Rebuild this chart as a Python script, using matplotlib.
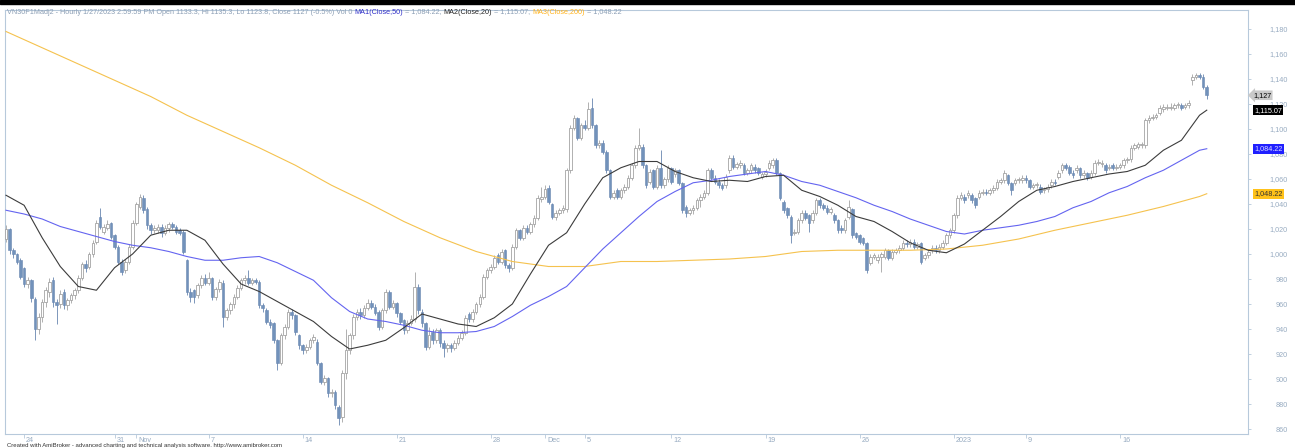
import matplotlib
matplotlib.use("Agg")
import numpy as np
import matplotlib.pyplot as plt
from matplotlib.transforms import ScaledTranslation, blended_transform_factory

plt.rcParams['font.family'] = ['Liberation Sans', 'DejaVu Sans']

# ===== hourly bars VN30F1M =====
opens = [
    1012, 1020, 1003, 1000, 995, 989, 976, 979, 964, 940,
    950, 962, 970, 979, 962, 960, 970, 959, 963, 967,
    971, 981, 992, 990, 1000, 1010, 1030, 1018, 1021, 1025,
    1015, 1006, 994, 987, 994, 1006, 1025, 1038, 1045, 1036,
    1023, 1019, 1019, 1022, 1017, 1021, 1024, 1022, 1019, 1018,
    995, 970, 971, 967, 975, 981, 977, 981, 966, 972,
    977, 950, 955, 960, 966, 973, 979, 981, 977, 979,
    978, 959, 955, 946, 945, 931, 913, 935, 942, 954,
    951, 935, 927, 923, 926, 931, 930, 913, 898, 901,
    889, 890, 878, 870, 905, 923, 935, 950, 954, 951,
    957, 961, 958, 954, 942, 955, 970, 958, 961, 953,
    947, 939, 945, 948, 974, 954, 945, 926, 938, 931,
    939, 929, 925, 927, 925, 929, 933, 937, 952, 948,
    954, 960, 966, 982, 987, 990, 999, 994, 1003, 991,
    989, 1006, 1019, 1013, 1021, 1018, 1024, 1029, 1044, 1046,
    1053, 1040, 1030, 1033, 1035, 1036, 1067, 1101, 1109, 1093,
    1103, 1101, 1117, 1103, 1087, 1089, 1082, 1067, 1046, 1051,
    1046, 1051, 1054, 1061, 1071, 1085, 1086, 1071, 1058, 1067,
    1054, 1069, 1055, 1060, 1069, 1064, 1067, 1057, 1038, 1033,
    1035, 1037, 1043, 1046, 1049, 1067, 1061, 1058, 1055, 1055,
    1067, 1077, 1070, 1071, 1071, 1065, 1067, 1070, 1069, 1062,
    1064, 1069, 1071, 1075, 1065, 1042, 1037, 1030, 1017, 1018,
    1027, 1033, 1031, 1027, 1033, 1043, 1039, 1037, 1034, 1031,
    1027, 1021, 1019, 1030, 1036, 1017, 1015, 1013, 1009, 993,
    998, 995, 998, 998, 1003, 997, 1002, 1003, 1005, 1009,
    1008, 1010, 1006, 1009, 997, 999, 1003, 1005, 1003, 1006,
    1009, 1015, 1019, 1031, 1045, 1046, 1047, 1047, 1045, 1046,
    1049, 1050, 1049, 1051, 1053, 1058, 1059, 1063, 1057, 1057,
    1059, 1059, 1061, 1059, 1054, 1055, 1054, 1051, 1052, 1055,
    1058, 1062, 1067, 1071, 1070, 1065, 1067, 1069, 1063, 1065,
    1062, 1065, 1073, 1072, 1071, 1069, 1071, 1069, 1070, 1071,
    1075, 1076, 1085, 1086, 1087, 1087, 1107, 1109, 1110, 1113,
    1116, 1117, 1117, 1117, 1119, 1119, 1118, 1119, 1139, 1142,
    1143, 1142, 1133.3,
]
highs = [
    1023, 1021, 1005, 1001, 997, 990, 982, 980, 966, 953,
    964, 974, 981, 982, 964, 971, 972, 965, 969, 973,
    983, 994, 995, 1002, 1011, 1027, 1037, 1024, 1027, 1026,
    1016, 1007, 996, 996, 1008, 1027, 1042, 1048, 1047, 1038,
    1025, 1023, 1024, 1024, 1023, 1026, 1026, 1023, 1021, 1019,
    996, 973, 972, 977, 983, 984, 986, 982, 974, 980,
    979, 957, 962, 968, 975, 981, 983, 987, 981, 981,
    979, 961, 957, 948, 946, 932, 937, 944, 956, 956,
    952, 936, 928, 928, 933, 936, 932, 914, 903, 902,
    892, 891, 879, 907, 940, 937, 952, 956, 957, 959,
    964, 963, 960, 955, 957, 972, 971, 963, 962, 954,
    948, 947, 951, 986, 976, 956, 946, 942, 940, 941,
    941, 931, 929, 929, 931, 935, 939, 951, 954, 956,
    962, 968, 984, 989, 992, 999, 1001, 1004, 1004, 993,
    1008, 1021, 1020, 1023, 1023, 1026, 1031, 1047, 1054, 1055,
    1055, 1041, 1035, 1037, 1039, 1069, 1103, 1111, 1110, 1105,
    1107, 1122, 1125, 1104, 1091, 1091, 1083, 1068, 1051, 1053,
    1053, 1056, 1063, 1073, 1087, 1101, 1088, 1072, 1068, 1068,
    1071, 1083, 1062, 1071, 1070, 1069, 1068, 1058, 1039, 1037,
    1039, 1045, 1048, 1051, 1069, 1069, 1063, 1060, 1057, 1064,
    1079, 1079, 1074, 1075, 1073, 1069, 1073, 1072, 1070, 1066,
    1068, 1075, 1077, 1077, 1066, 1043, 1038, 1031, 1020, 1029,
    1035, 1035, 1032, 1035, 1045, 1045, 1041, 1039, 1038, 1033,
    1028, 1023, 1029, 1043, 1037, 1018, 1016, 1014, 1010, 1000,
    1001, 1000, 1002, 1005, 1004, 1004, 1005, 1007, 1011, 1011,
    1012, 1012, 1010, 1010, 1001, 1004, 1007, 1007, 1008, 1011,
    1017, 1021, 1033, 1047, 1050, 1048, 1051, 1049, 1046, 1051,
    1052, 1052, 1053, 1055, 1060, 1061, 1067, 1064, 1058, 1061,
    1062, 1063, 1063, 1060, 1057, 1058, 1056, 1054, 1056, 1060,
    1060, 1067, 1073, 1073, 1071, 1067, 1071, 1070, 1067, 1066,
    1067, 1075, 1076, 1075, 1073, 1072, 1073, 1072, 1073, 1077,
    1078, 1087, 1089, 1090, 1090, 1109, 1111, 1112, 1113, 1119,
    1120, 1120, 1121, 1121, 1122, 1121, 1121, 1123, 1144, 1145,
    1145, 1144, 1135.3,
]
lows = [
    1010, 1000, 997, 992, 980, 974, 973, 962, 931, 936,
    946, 958, 966, 958, 944, 957, 956, 955, 961, 964,
    969, 979, 986, 988, 998, 1008, 1020, 1016, 1019, 1012,
    1004, 992, 983, 985, 992, 1004, 1023, 1036, 1033, 1020,
    1016, 1017, 1017, 1014, 1015, 1018, 1020, 1016, 1015, 1000,
    967, 962, 961, 965, 973, 975, 975, 963, 963, 970,
    942, 947, 952, 957, 964, 971, 976, 975, 975, 976,
    957, 954, 944, 941, 929, 907, 911, 932, 940, 948,
    935, 924, 920, 921, 924, 929, 911, 896, 895, 886,
    886, 876, 863, 866, 900, 920, 932, 947, 948, 949,
    955, 956, 951, 939, 940, 953, 956, 956, 950, 944,
    936, 937, 943, 946, 952, 942, 923, 924, 928, 929,
    926, 918, 922, 922, 923, 927, 931, 935, 946, 946,
    952, 958, 964, 980, 985, 988, 992, 992, 989, 986,
    987, 1004, 1011, 1011, 1016, 1016, 1022, 1027, 1042, 1044,
    1040, 1028, 1027, 1031, 1033, 1034, 1065, 1099, 1091, 1091,
    1099, 1099, 1101, 1085, 1085, 1080, 1065, 1044, 1044, 1044,
    1044, 1049, 1052, 1059, 1069, 1083, 1069, 1053, 1056, 1052,
    1052, 1053, 1053, 1058, 1056, 1062, 1055, 1033, 1030, 1031,
    1032, 1035, 1038, 1044, 1047, 1059, 1056, 1053, 1051, 1053,
    1065, 1068, 1068, 1069, 1063, 1063, 1065, 1065, 1063, 1060,
    1062, 1067, 1069, 1063, 1043, 1033, 1029, 1009, 1015, 1016,
    1025, 1027, 1018, 1025, 1031, 1037, 1035, 1032, 1032, 1025,
    1017, 1017, 1017, 1028, 1013, 1012, 1008, 1007, 985, 991,
    996, 993, 986, 996, 995, 995, 1000, 1001, 1003, 1006,
    1006, 1004, 1004, 992, 995, 997, 1001, 1001, 1001, 1004,
    1007, 1013, 1017, 1029, 1043, 1041, 1045, 1041, 1037, 1044,
    1047, 1047, 1047, 1049, 1051, 1056, 1057, 1055, 1047, 1055,
    1057, 1057, 1057, 1052, 1052, 1053, 1048, 1049, 1050, 1053,
    1055, 1060, 1065, 1067, 1063, 1061, 1065, 1061, 1061, 1059,
    1060, 1063, 1071, 1070, 1065, 1067, 1067, 1067, 1068, 1069,
    1073, 1074, 1083, 1084, 1085, 1085, 1105, 1107, 1108, 1111,
    1114, 1115, 1115, 1115, 1117, 1115, 1116, 1117, 1135, 1140,
    1140, 1132, 1123.8,
]
closes = [
    1020, 1003, 1000, 994, 982, 976, 979, 965, 940, 950,
    962, 971, 978, 962, 959, 968, 959, 963, 967, 971,
    981, 992, 989, 1000, 1009, 1025, 1022, 1022, 1024, 1014,
    1006, 994, 986, 994, 1006, 1025, 1040, 1046, 1035, 1023,
    1019, 1021, 1022, 1017, 1021, 1024, 1022, 1018, 1017, 1002,
    970, 966, 966, 975, 981, 977, 981, 966, 972, 978,
    950, 955, 960, 966, 973, 979, 981, 977, 979, 978,
    959, 957, 946, 943, 931, 913, 935, 942, 954, 951,
    938, 927, 923, 926, 931, 934, 913, 898, 901, 889,
    890, 879, 869, 905, 923, 935, 950, 954, 951, 957,
    961, 958, 953, 942, 955, 970, 958, 961, 953, 946,
    939, 945, 948, 974, 955, 945, 926, 935, 931, 939,
    929, 925, 927, 925, 929, 933, 937, 949, 948, 954,
    960, 966, 982, 987, 990, 997, 994, 1002, 991, 989,
    1006, 1019, 1013, 1021, 1018, 1024, 1029, 1045, 1046, 1052,
    1042, 1030, 1033, 1035, 1037, 1067, 1101, 1109, 1093, 1103,
    1101, 1116, 1103, 1087, 1089, 1082, 1067, 1046, 1049, 1046,
    1051, 1054, 1061, 1071, 1085, 1087, 1071, 1055, 1066, 1054,
    1069, 1055, 1060, 1069, 1058, 1067, 1057, 1035, 1033, 1035,
    1037, 1043, 1046, 1049, 1067, 1061, 1058, 1055, 1053, 1062,
    1077, 1070, 1072, 1073, 1065, 1067, 1071, 1067, 1065, 1064,
    1066, 1073, 1075, 1065, 1045, 1035, 1031, 1015, 1018, 1027,
    1033, 1029, 1025, 1033, 1043, 1039, 1037, 1034, 1036, 1027,
    1019, 1019, 1027, 1038, 1015, 1014, 1010, 1009, 987, 998,
    999, 998, 1000, 1003, 997, 1002, 1003, 1005, 1009, 1008,
    1010, 1006, 1008, 994, 999, 1002, 1005, 1003, 1006, 1009,
    1015, 1019, 1031, 1045, 1047, 1043, 1049, 1043, 1039, 1049,
    1050, 1049, 1051, 1053, 1058, 1059, 1065, 1057, 1051, 1059,
    1060, 1061, 1059, 1054, 1055, 1056, 1050, 1052, 1054, 1058,
    1057, 1065, 1071, 1069, 1065, 1063, 1069, 1063, 1065, 1061,
    1065, 1073, 1074, 1073, 1067, 1070, 1069, 1070, 1071, 1075,
    1076, 1085, 1087, 1088, 1088, 1107, 1109, 1110, 1111, 1117,
    1118, 1118, 1118, 1119, 1120, 1117, 1119, 1121, 1142, 1143,
    1142, 1134, 1127,
]

# moving averages MA20 / MA50, read every 5 bars
ma_idx = [0, 5, 10, 15, 20, 25, 30, 35, 40, 45, 50, 55, 60, 65, 70, 75, 80, 85, 90,
          95, 100, 105, 110, 115, 120, 125, 130, 135, 140, 145, 150, 155, 160, 165,
          170, 175, 180, 185, 190, 195, 200, 205, 210, 215, 220, 225, 230, 235, 240,
          245, 250, 255, 260, 265, 270, 275, 280, 285, 290, 295, 300, 305, 310, 315,
          320, 325, 330, 332]
ma20 = [1047, 1039, 1013, 990, 974, 971, 989, 1000, 1015, 1019, 1019, 1011, 992, 976,
        970, 962, 954, 946, 934, 924, 927, 931, 941, 952, 948, 944, 942, 949, 960,
        984, 1007, 1017, 1040, 1061, 1069, 1074, 1074, 1066, 1061, 1058, 1059, 1058,
        1062, 1063, 1051, 1046, 1039, 1030, 1026, 1018, 1009, 1003, 1001, 1008, 1019,
        1030, 1042, 1051, 1054, 1058, 1061, 1064, 1066, 1071, 1083, 1091, 1111, 1115.07]
ma50 = [1035, 1032, 1028, 1022, 1018, 1014, 1010, 1007, 1005, 1002, 998, 995, 995,
        997, 998, 993, 986, 979, 965, 954, 948, 946, 943, 939, 937, 937, 938, 942,
        950, 959, 966, 974, 989, 1004, 1017, 1030, 1042, 1050, 1057, 1059, 1062, 1064,
        1066, 1063, 1058, 1055, 1050, 1045, 1039, 1034, 1028, 1023, 1018, 1016, 1019,
        1021, 1023, 1026, 1030, 1037, 1042, 1049, 1054, 1061, 1067, 1075, 1083, 1084.22]

# MA200, read every 10 bars
ma200_idx = [0, 10, 20, 30, 40, 50, 60, 70, 80, 90, 100, 110, 120, 130, 140, 150, 160,
             170, 180, 190, 200, 210, 220, 230, 240, 250, 260, 270, 280, 290, 300, 310,
             320, 330, 332]
ma200 = [1178, 1165, 1152, 1139, 1126, 1111, 1098, 1085, 1071, 1055, 1041, 1026, 1013,
         1002, 994, 990, 990, 994, 994, 995, 996, 998, 1002, 1003, 1003, 1003, 1004,
         1007, 1012, 1019, 1025, 1031, 1038, 1046, 1048.22]

# date ticks (bar number of first bar of the day)
tick_pos = [5, 30, 36, 56, 82, 108, 134, 149, 160, 184, 210, 236, 262, 282, 308]
tick_lbl = ['24', '31', 'Nov', '7', '14', '21', '28', 'Dec', '5', '12', '19', '26',
            '2023', '9', '16']

y_ticks = list(range(860, 1181, 20))

# ===== colours =====
C_UP_EDGE = '#a3a3a3'
C_DN = '#7292bb'
C_DN_EDGE = '#6886b0'
C_MA20 = '#3c3c3c'
C_MA50 = '#6464f0'
C_MA200 = '#f5c24e'
C_FRAME = '#b7c9db'
C_TXT = '#97abc1'

W, H = 1295, 448
fig = plt.figure(figsize=(W / 100, H / 100), dpi=100)
fig.patch.set_facecolor('white')
fig.add_artist(plt.Rectangle((0, 1 - 4 / H), 1, 4 / H, transform=fig.transFigure,
                             color='black', zorder=0))

ax = fig.add_axes([5 / W, 1 - 434 / H, (1248 - 5) / W, (434 - 10) / H])

o = np.array(opens, dtype=float)
h = np.array(highs, dtype=float)
l = np.array(lows, dtype=float)
c = np.array(closes, dtype=float)
n = min(len(o), len(h), len(l), len(c))
o, h, l, c = o[:n], h[:n], l[:n], c[:n]
x = np.arange(n)
up = c >= o
bot = np.minimum(o, c)
hgt = np.maximum(np.abs(c - o), 0.6)

# wicks
ax.vlines(x[up], l[up], h[up], color=C_UP_EDGE, lw=0.6, zorder=2)
ax.vlines(x[~up], l[~up], h[~up], color=C_DN_EDGE, lw=0.6, zorder=2)
# bodies
ax.bar(x[up], hgt[up], bottom=bot[up], width=0.72, color='white',
       edgecolor=C_UP_EDGE, linewidth=0.6, zorder=3)
ax.bar(x[~up], hgt[~up], bottom=bot[~up], width=0.72, color=C_DN,
       edgecolor=C_DN_EDGE, linewidth=0.4, zorder=3)

# moving averages
ax.plot(ma200_idx, ma200, color=C_MA200, lw=0.8, zorder=4)
ax.plot(ma_idx, ma50, color=C_MA50, lw=0.8, zorder=4)
ax.plot(ma_idx, ma20, color=C_MA20, lw=0.8, zorder=4)

ax.set_xlim(-0.28, 343.4)
ax.set_ylim(856, 1195.2)

for s in ax.spines.values():
    s.set_color(C_FRAME)
    s.set_linewidth(0.8)

# right price scale
ax.yaxis.tick_right()
ax.set_yticks(y_ticks)
ax.set_yticklabels([f"{v:,}" for v in y_ticks])
ax.tick_params(axis='y', direction='out', length=2.2, width=0.6, color=C_FRAME,
               labelsize=5.2, labelcolor=C_TXT, pad=26.6)
for lab in ax.get_yticklabels():
    lab.set_ha('right')

# date scale
ax.set_xticks(tick_pos)
ax.set_xticklabels(tick_lbl)
ax.tick_params(axis='x', direction='out', length=3, width=0.6, color=C_FRAME,
               labelsize=5.2, labelcolor=C_TXT, pad=-1)
shift = ScaledTranslation(2 / 100, 0, fig.dpi_scale_trans)
for lab in ax.get_xticklabels():
    lab.set_ha('left')
    lab.set_transform(lab.get_transform() + shift)

# value tags on the price scale
tr = blended_transform_factory(ax.transAxes, ax.transData)
tags = [
    (closes[-1], '1,127', '#c9c9c9', 'black', 'larrow', 5),
    (ma20[-1], '1,115.07', 'black', 'white', 'square', 6),
    (ma50[-1], '1,084.22', '#2020ff', '#dcdcff', 'square', 6),
    (ma200[-1], '1,048.22', '#ffc21a', '#333333', 'square', 6),
]
for val, txt, fc, tc, style, dx in tags:
    ax.text(1.0, val, txt, transform=tr + ScaledTranslation(dx / 100, 0, fig.dpi_scale_trans),
            ha='left', va='center', fontsize=5.2, color=tc, zorder=8, clip_on=False,
            bbox=dict(boxstyle=f'{style},pad=0.18', fc=fc, ec='none'))

# header line with coloured indicator names
pieces = [
    ("VN30F1Madj2 - Hourly 1/27/2023 2:59:59 PM Open 1133.3, Hi 1135.3, Lo 1123.8, "
     "Close 1127 (-0.5%) Vol 0 ", '#8c9fb5'),
    ("MA1(Close,50)", '#2c2cc8'),
    (" = 1,084.22, ", '#8c9fb5'),
    ("MA2(Close,20)", '#222222'),
    (" = 1,115.07, ", '#8c9fb5'),
    ("MA3(Close,200)", '#ffb21a'),
    (" = 1,048.22", '#8c9fb5'),
]
renderer = fig.canvas.get_renderer()
xpos = 7
for txt, col in pieces:
    t = fig.text(xpos / W, 1 - 12 / H, txt, color=col, fontsize=5.2, va='center', ha='left')
    bb = t.get_window_extent(renderer)
    xpos = bb.x1

fig.text(7 / W, 1 - 445 / H,
         "Created with AmiBroker - advanced charting and technical analysis software. "
         "http://www.amibroker.com",
         fontsize=4.3, color='#333333', va='center', ha='left')

fig.savefig('out.png', dpi=100)
